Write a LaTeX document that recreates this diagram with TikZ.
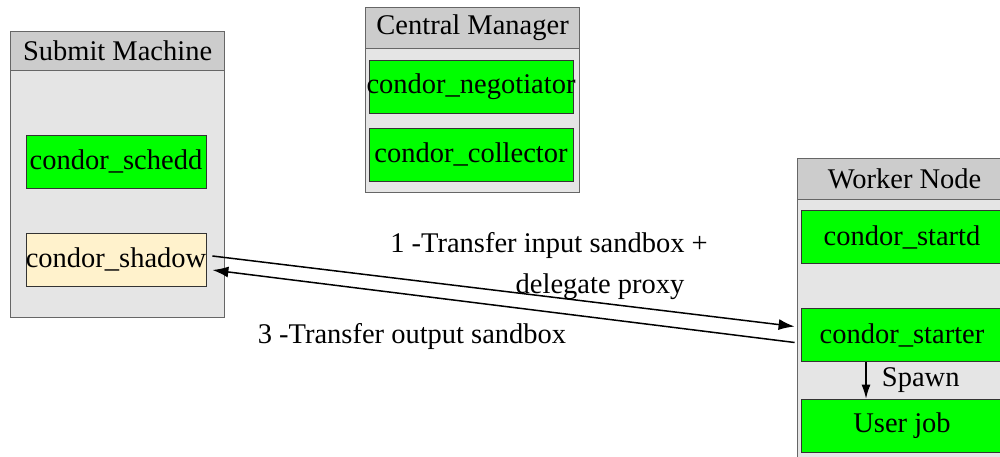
\documentclass[tikz,border=0pt]{standalone}
\usepackage{fontspec}
\setmainfont{Liberation Serif}
\usetikzlibrary{positioning,arrows.meta}
\definecolor{procgreen}{HTML}{00FF00}
\definecolor{shadowfill}{HTML}{FFF2CC}
\definecolor{clusterfill}{HTML}{E5E5E5}
\definecolor{headfill}{HTML}{CCCCCC}
\definecolor{clusterline}{HTML}{666666}

\begin{document}
\begin{tikzpicture}[x=1pt, y=-1pt, node distance=98pt,
  every node/.style={font=\fontsize{28.5}{32}\selectfont},
  cluster/.style={draw=clusterline, fill=clusterfill, line width=1.2pt, anchor=north west, minimum width=214pt, inner sep=0pt},
  header/.style={cluster, fill=headfill},
  block/.style={draw=black!80, fill=procgreen, line width=0.8pt, minimum width=202pt, minimum height=53pt, inner sep=0pt},
  transfer/.style={-{Latex[length=16pt, width=11pt]}, line width=1.5pt}]

  \clip (0,0) rectangle (1000,457);

  % Clusters
  \node[cluster, minimum height=286pt] (submit) at (10,31) {};
  \node[header, minimum height=39pt] (submithead) at (10,31) {Submit Machine};
  \node[cluster, minimum height=185pt] (central) at (365,7) {};
  \node[header, minimum height=41pt] (centralhead) at (365,7) {Central Manager};
  \node[cluster, minimum height=320pt] (worker) at (797,158) {};
  \node[header, minimum height=41pt] (workerhead) at (797,158) {Worker Node};

  % Submit machine
  \node[block, minimum width=180pt] (schedd) at (116,161.5) {condor\_schedd};
  \node[block, minimum width=180pt, fill=shadowfill, below of=schedd] (shadow) {\makebox[0pt]{condor\_shadow}};

  % Central manager
  \node[block, minimum width=204pt] (negotiator) at (471,86.5) {\makebox[0pt]{condor\_negotiator}};
  \node[block, minimum width=204pt, below of=negotiator, node distance=68pt] (collector) {condor\_collector};

  % Worker node
  \node[block] (startd) at (902,237) {condor\_startd};
  \node[block, below of=startd] (starter) {condor\_starter};
  \node[block, below of=starter, node distance=90.5pt] (userjob) {User job};

  % Spawn arrow
  \draw[-{Latex[length=14pt, width=9pt]}, line width=1.2pt] ([xshift=-36pt]starter.south) -- ([xshift=-36pt]userjob.north)
    node[midway, right=12pt] (spawnlabel) {Spawn};

  % Transfer arrows
  \draw[transfer] ([xshift=6pt, yshift=3.5pt]shadow.east) -- ([xshift=-6pt, yshift=8.5pt]starter.west);
  \draw[transfer] ([xshift=-6pt, yshift=-7.5pt]starter.west) -- ([xshift=6pt, yshift=-10.5pt]shadow.east);

  % Labels
  \node (inlabel) at (549,245) {1 -Transfer input sandbox +};
  \node (proxylabel) at (600,287) {delegate proxy};
  \node (outlabel) at (412,336) {3 -Transfer output sandbox};

\end{tikzpicture}
\end{document}
